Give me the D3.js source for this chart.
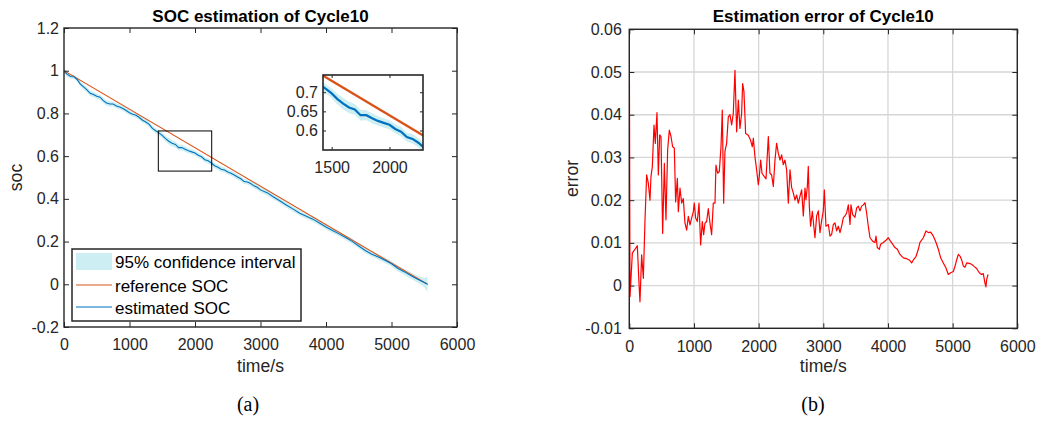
<!DOCTYPE html>
<html><head><meta charset="utf-8">
<script src="https://cdn.jsdelivr.net/npm/d3@7"></script>
<style>
body{margin:0;background:#fff}
svg{display:block}
</style>
</head><body>
<svg id="c" width="1042" height="426"></svg>
<script>
// ---------- data ----------
const timeTicks = [0, 1000, 2000, 3000, 4000, 5000, 6000];
const socTicks = [-0.2, 0, 0.2, 0.4, 0.6, 0.8, 1, 1.2];
const errTicks = [-0.01, 0, 0.01, 0.02, 0.03, 0.04, 0.05, 0.06];
const insetXTicks = [1500, 2000];
const insetYTicks = [0.6, 0.65, 0.7];

const legendLabels = ["95% confidence interval", "reference SOC", "estimated SOC"];
const titles = ["SOC estimation of Cycle10", "Estimation error of Cycle10"];
const captions = ["(a)", "(b)"];

const refTime = [0, 5550];
const refSOC = [1, 0];

const estTime = [0,50,100,150,200,250,300,350,400,450,500,550,600,650,700,750,800,850,900,950,
  1000,1050,1100,1150,1200,1250,1300,1350,1400,1450,1500,1550,1600,1650,1700,1750,1800,1850,1900,1950,
  2000,2050,2100,2150,2200,2250,2300,2350,2400,2450,2500,2550,2600,2650,2700,2750,2800,2850,2900,2950,
  3000,3100,3200,3300,3400,3500,3600,3700,3800,3900,4000,4100,4200,4300,4400,4500,4600,4700,4800,4900,
  5000,5100,5200,5300,5400,5500,5550];
const estSOC = [0.998,0.983,0.973,0.972,0.959,0.937,0.924,0.910,0.894,0.889,0.880,0.876,0.860,0.849,0.844,0.844,0.835,0.830,0.823,0.814,
  0.803,0.796,0.791,0.781,0.768,0.760,0.749,0.730,0.719,0.709,0.697,0.682,0.670,0.660,0.655,0.640,0.640,0.632,0.625,0.620,
  0.615,0.604,0.597,0.583,0.578,0.568,0.555,0.548,0.539,0.535,0.526,0.520,0.512,0.502,0.494,0.481,0.479,0.472,0.461,0.454,
  0.442,0.429,0.409,0.390,0.370,0.352,0.333,0.319,0.305,0.287,0.268,0.252,0.236,0.219,0.201,0.179,0.158,0.141,0.128,0.113,
  0.096,0.074,0.058,0.040,0.024,0.008,0.000];
const ciHalf = [0.010,0.011,0.011,0.011,0.011,0.012,0.012,0.012,0.012,0.012,0.012,0.012,0.012,0.012,0.012,0.012,0.012,0.012,0.012,0.012,
  0.012,0.012,0.012,0.012,0.012,0.012,0.012,0.012,0.012,0.012,0.013,0.014,0.015,0.015,0.014,0.014,0.013,0.013,0.012,0.012,
  0.012,0.012,0.012,0.012,0.012,0.012,0.012,0.012,0.012,0.012,0.012,0.012,0.012,0.012,0.012,0.012,0.012,0.012,0.012,0.012,
  0.012,0.012,0.012,0.012,0.012,0.012,0.012,0.012,0.012,0.012,0.012,0.012,0.012,0.012,0.012,0.012,0.012,0.012,0.013,0.013,
  0.013,0.014,0.014,0.015,0.016,0.022,0.035];

const errTime = [0,11,47,78,98,124,150,165,191,217,243,268,294,320,335,356,382,402,428,449,470,490,516,542,567,593,619,645,670,696,
  717,743,758,784,810,835,861,887,913,938,964,990,1005,1026,1052,1078,1103,1129,1150,1170,1196,1222,1248,1273,1299,1325,1340,1366,1392,1418,
  1438,1459,1479,1505,1531,1557,1583,1608,1634,1660,1686,1711,1737,1753,1773,1799,1840,1876,1902,1918,1943,1969,1995,2010,2031,2052,2088,2114,2150,2175,
  2201,2227,2253,2278,2304,2330,2356,2381,2407,2433,2459,2485,2510,2536,2562,2588,2613,2639,2665,2691,2717,2732,2753,2768,2784,2804,2830,2846,2871,2897,
  2923,2949,2974,3000,3016,3041,3078,3103,3129,3155,3181,3206,3232,3258,3284,3310,3335,3361,3387,3413,3428,3454,3490,3516,3541,3567,3593,3619,3645,3670,
  3696,3722,3763,3799,3815,3835,3866,3887,3928,3969,4005,4031,4072,4108,4145,4186,4237,4289,4330,4366,4392,4433,4469,4495,4547,4588,4624,4660,4701,4743,
  4779,4815,4856,4897,4933,4969,5011,5036,5062,5088,5114,5140,5165,5191,5217,5258,5294,5330,5371,5412,5449,5474,5500,5515,5526,5547];
const errVal = [0.060,-0.0026,0.0076,0.0083,0.0087,0.0093,0.0005,-0.0038,0.0072,0.0017,0.0154,0.0259,0.0240,0.0200,0.0255,0.0278,0.0376,0.0333,0.0405,0.0259,0.0353,0.0349,0.0122,0.0286,0.0154,0.0318,0.0364,0.0349,0.0325,0.0322,
  0.0196,0.0251,0.0173,0.0228,0.0193,0.0204,0.0146,0.0130,0.0162,0.0142,0.0158,0.0173,0.0193,0.0158,0.0150,0.0193,0.0095,0.0150,0.0119,0.0146,0.0150,0.0180,0.0146,0.0119,0.0193,0.0193,0.0282,0.0263,0.0267,0.0325,
  0.0411,0.0193,0.0314,0.0333,0.0395,0.0400,0.0376,0.0403,0.0504,0.0360,0.0434,0.0368,0.0403,0.0473,0.0454,0.0356,0.0352,0.0340,0.0325,0.0345,0.0302,0.0271,0.0236,0.0255,0.0294,0.0263,0.0255,0.0250,0.0349,0.0263,
  0.0259,0.0232,0.0294,0.0333,0.0310,0.0294,0.0306,0.0283,0.0294,0.0271,0.0193,0.0271,0.0230,0.0217,0.0200,0.0212,0.0193,0.0209,0.0224,0.0163,0.0228,0.0201,0.0232,0.0279,0.0186,0.0139,0.0174,0.0150,0.0112,0.0163,
  0.0175,0.0124,0.0152,0.0175,0.0224,0.0139,0.0143,0.0116,0.0120,0.0143,0.0147,0.0128,0.0139,0.0124,0.0139,0.0159,0.0163,0.0170,0.0189,0.0143,0.0189,0.0166,0.0160,0.0182,0.0186,0.0175,0.0186,0.0189,0.0194,0.0170,
  0.0139,0.0112,0.0104,0.0101,0.0116,0.0089,0.0085,0.0097,0.0101,0.0106,0.0112,0.0106,0.0097,0.0089,0.0085,0.0073,0.0065,0.0063,0.0060,0.0053,0.0060,0.0068,0.0085,0.0101,0.0112,0.0128,0.0124,0.0125,0.0116,0.0101,
  0.0085,0.0065,0.0053,0.0041,0.0026,0.0030,0.0033,0.0045,0.0060,0.0073,0.0069,0.0060,0.0046,0.0043,0.0053,0.0052,0.0050,0.0045,0.0040,0.0030,0.0026,0.0028,0.0006,-0.0003,0.0014,0.0026];

// zoom window drawn on the main SOC plot, and inset domain (data units)
const zoomBoxX = [1440, 2255];
const zoomBoxY = [0.53, 0.718];
const insetDomX = [1425, 2290];
const insetDomY = [0.549, 0.745];

// ---------- style ----------
const FONT = 'Arial, "Liberation Sans", Helvetica, sans-serif';
const AX = '#262626';
const C_REF = '#D95319', C_EST = '#0072BD', C_CI = '#cdeef2', C_ERR = '#ff0000';

const svg = d3.select('#c');
svg.append('rect').attr('width', 1042).attr('height', 426).attr('fill', '#fff');

const fmt = d => String(Math.round(d * 1000) / 1000);

function drawAxes(x, y, xt, yt, o) {
  const [xa, xb] = x.range(), [ya, yb] = y.range(); // ya bottom, yb top
  const g = svg.append('g');
  const style = sel => {
    sel.select('.domain').remove();
    sel.attr('font-family', FONT).attr('font-size', o.fs).attr('color', AX);
    sel.selectAll('line').attr('stroke', AX).attr('stroke-width', 1);
  };
  g.append('g').attr('transform', `translate(0,${ya})`)
    .call(d3.axisBottom(x).tickValues(xt).tickSizeInner(-o.tick).tickSizeOuter(0).tickPadding(o.padX).tickFormat(fmt)).call(style);
  g.append('g').attr('transform', `translate(0,${yb})`)
    .call(d3.axisTop(x).tickValues(xt).tickSizeInner(-o.tick).tickSizeOuter(0).tickFormat('')).call(style);
  g.append('g').attr('transform', `translate(${xa},0)`)
    .call(d3.axisLeft(y).tickValues(yt).tickSizeInner(-o.tick).tickSizeOuter(0).tickPadding(o.padY).tickFormat(fmt)).call(style);
  g.append('g').attr('transform', `translate(${xb},0)`)
    .call(d3.axisRight(y).tickValues(yt).tickSizeInner(-o.tick).tickSizeOuter(0).tickFormat('')).call(style);
  g.append('rect').attr('x', xa).attr('y', yb).attr('width', xb - xa).attr('height', ya - yb)
    .attr('fill', 'none').attr('stroke', AX).attr('stroke-width', o.bw);
  return g;
}

function text(x, y, s, size, opts = {}) {
  const t = svg.append('text').attr('x', x).attr('y', y).text(s)
    .attr('font-family', opts.family || FONT).attr('font-size', size)
    .attr('fill', opts.fill || AX).attr('text-anchor', opts.anchor || 'middle');
  if (opts.bold) t.attr('font-weight', 'bold');
  if (opts.rot) t.attr('transform', `rotate(-90,${x},${y})`);
  return t;
}

// ================= LEFT: SOC =================
const xL = d3.scaleLinear([0, 6000], [64, 457]);
const yL = d3.scaleLinear([-0.2, 1.2], [327, 28]);
const est = estTime.map((t, i) => ({ t, v: estSOC[i], h: ciHalf[i] }));
const ref = refTime.map((t, i) => ({ t, v: refSOC[i] }));

svg.append('defs').append('clipPath').attr('id', 'clipL')
  .append('rect').attr('x', 64).attr('y', 28).attr('width', 393).attr('height', 299);
const gL = svg.append('g').attr('clip-path', 'url(#clipL)');
gL.append('path').datum(est).attr('fill', C_CI)
  .attr('d', d3.area().x(d => xL(d.t)).y0(d => yL(d.v - d.h)).y1(d => yL(d.v + d.h)));
gL.append('path').datum(ref).attr('fill', 'none').attr('stroke', C_REF).attr('stroke-width', 1.1)
  .attr('d', d3.line().x(d => xL(d.t)).y(d => yL(d.v)));
gL.append('path').datum(est).attr('fill', 'none').attr('stroke', C_EST).attr('stroke-width', 1.1)
  .attr('d', d3.line().x(d => xL(d.t)).y(d => yL(d.v)));

drawAxes(xL, yL, timeTicks, socTicks, { tick: 5, padX: 12, padY: 5, fs: 16, bw: 1.4 });

// zoom rectangle
svg.append('rect').attr('x', xL(zoomBoxX[0])).attr('y', yL(zoomBoxY[1]))
  .attr('width', xL(zoomBoxX[1]) - xL(zoomBoxX[0])).attr('height', yL(zoomBoxY[0]) - yL(zoomBoxY[1]))
  .attr('fill', 'none').attr('stroke', '#000').attr('stroke-width', 1);

// inset
const xI = d3.scaleLinear(insetDomX, [323, 423]);
const yI = d3.scaleLinear(insetDomY, [150, 75]);
svg.append('rect').attr('x', 323).attr('y', 75).attr('width', 100).attr('height', 75).attr('fill', '#fff');
svg.select('defs').append('clipPath').attr('id', 'clipI')
  .append('rect').attr('x', 323).attr('y', 75).attr('width', 100).attr('height', 75);
const gI = svg.append('g').attr('clip-path', 'url(#clipI)');
gI.append('path').datum(est).attr('fill', C_CI)
  .attr('d', d3.area().x(d => xI(d.t)).y0(d => yI(d.v - d.h)).y1(d => yI(d.v + d.h)));
gI.append('path').datum(ref).attr('fill', 'none').attr('stroke', C_REF).attr('stroke-width', 2.4)
  .attr('d', d3.line().x(d => xI(d.t)).y(d => yI(d.v)));
gI.append('path').datum(est).attr('fill', 'none').attr('stroke', C_EST).attr('stroke-width', 2.2)
  .attr('d', d3.line().x(d => xI(d.t)).y(d => yI(d.v)));
drawAxes(xI, yI, insetXTicks, insetYTicks, { tick: 3, padX: 12, padY: 5, fs: 16, bw: 1.6 });

// legend
svg.append('rect').attr('x', 72).attr('y', 249).attr('width', 229).attr('height', 72)
  .attr('fill', '#fff').attr('stroke', AX).attr('stroke-width', 1.5);
svg.append('rect').attr('x', 76).attr('y', 253).attr('width', 36).attr('height', 17).attr('fill', C_CI);
svg.append('line').attr('x1', 76).attr('x2', 112).attr('y1', 285).attr('y2', 285).attr('stroke', C_REF).attr('stroke-width', 1.2);
svg.append('line').attr('x1', 76).attr('x2', 112).attr('y1', 307).attr('y2', 307).attr('stroke', C_EST).attr('stroke-width', 1.2);
[268, 292, 314].forEach((y, i) => text(115, y, legendLabels[i], 17, { anchor: 'start', fill: '#000' }));

text(260.5, 21.5, titles[0], 17, { bold: true, fill: '#000' });
text(22, 177.5, 'soc', 17.6, { rot: true });
text(260.5, 372, 'time/s', 17.6);

// ================= RIGHT: error =================
const xR = d3.scaleLinear([0, 6000], [629.3, 1017.3]);
const yR = d3.scaleLinear([-0.01, 0.06], [328.3, 29.3]);
const gridG = svg.append('g');
gridG.selectAll('.gx').data(timeTicks).join('line')
  .attr('x1', d => xR(d)).attr('x2', d => xR(d)).attr('y1', 29.3).attr('y2', 328.3)
  .attr('stroke', '#d6d6d6').attr('stroke-width', 1.3);
gridG.selectAll('.gy').data(errTicks).join('line')
  .attr('y1', d => yR(d)).attr('y2', d => yR(d)).attr('x1', 629.3).attr('x2', 1017.3)
  .attr('stroke', '#d6d6d6').attr('stroke-width', 1.3);

svg.select('defs').append('clipPath').attr('id', 'clipR')
  .append('rect').attr('x', 629.3).attr('y', 29.3).attr('width', 388).attr('height', 299);
const err = errTime.map((t, i) => ({ t, v: errVal[i] }));
svg.append('g').attr('clip-path', 'url(#clipR)').append('path').datum(err)
  .attr('fill', 'none').attr('stroke', C_ERR).attr('stroke-width', 1.2).attr('stroke-linejoin', 'round')
  .attr('d', d3.line().x(d => xR(d.t)).y(d => yR(d.v)));

drawAxes(xR, yR, timeTicks, errTicks, { tick: 5, padX: 12, padY: 7.5, fs: 16, bw: 1.4 });

text(823.3, 21.5, titles[1], 17, { bold: true, fill: '#000' });
text(578, 178.5, 'error', 17.6, { rot: true });
text(823.3, 372, 'time/s', 17.6);

// captions
text(248, 411, captions[0], 20, { family: '"Liberation Serif", "Times New Roman", serif', fill: '#000' });
text(813, 411, captions[1], 20, { family: '"Liberation Serif", "Times New Roman", serif', fill: '#000' });
</script>
</body></html>
